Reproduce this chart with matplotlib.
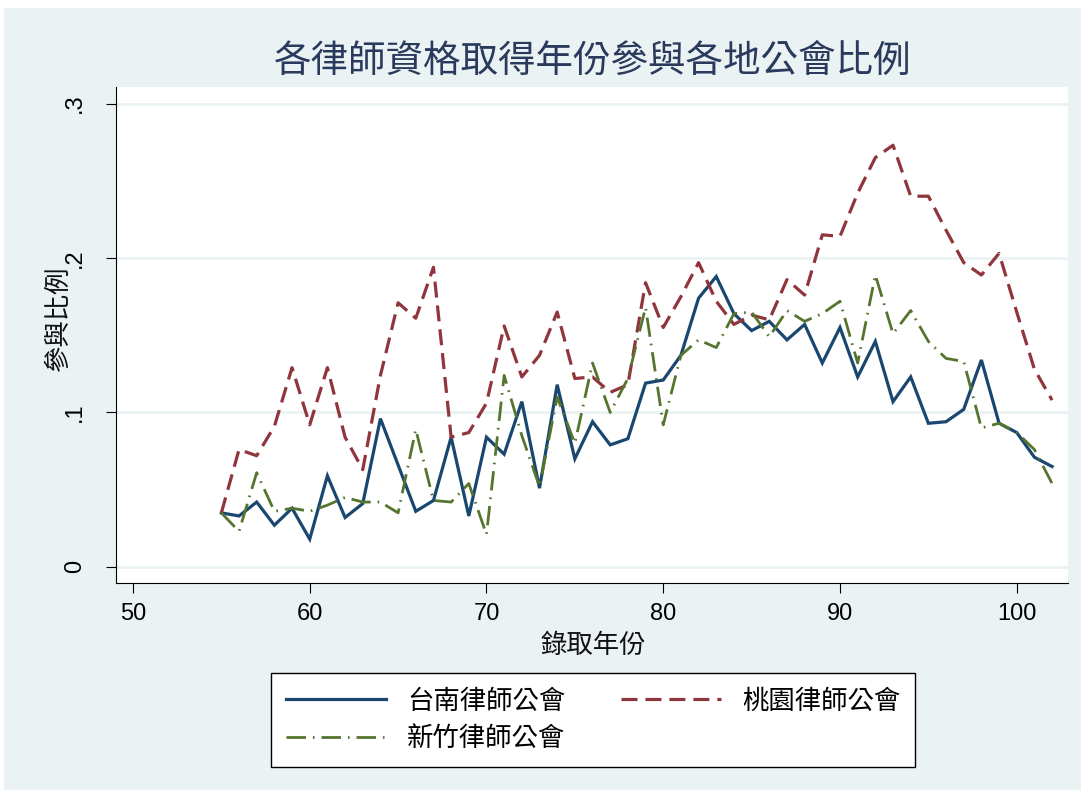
import numpy as np
import matplotlib
matplotlib.use("Agg")
import matplotlib.pyplot as plt
from matplotlib.patches import Rectangle

CJK = ["Noto Sans CJK TC", "DejaVu Sans"]
NUM = ["Liberation Sans", "DejaVu Sans"]

# data
years = list(range(55, 103))
tainan = [.035, .033, .042, .027, .038, .018, .059, .032, .041, .096,
          .066, .036, .043, .084, .033, .084, .073, .107, .051, .118,
          .070, .094, .079, .083, .119, .121, .137, .174, .188, .164,
          .153, .159, .147, .157, .132, .155, .123, .146, .107, .123,
          .093, .094, .102, .134, .093, .087, .071, .065]
taoyuan = [.035, .076, .072, .091, .129, .092, .129, .084, .063, .124,
           .171, .161, .194, .084, .087, .106, .156, .123, .137, .165,
           .122, .123, .113, .118, .184, .155, .175, .197, .172, .157,
           .163, .160, .186, .176, .215, .214, .242, .265, .273, .240,
           .240, .218, .197, .189, .203, .165, .128, .108]
hsinchu = [.035, .023, .061, .036, .038, .036, .040, .045, .042, .042,
           .035, .089, .043, .042, .054, .021, .124, .085, .052, .110,
           .080, .132, .100, .122, .168, .092, .137, .147, .142, .164,
           .165, .149, .166, .159, .164, .172, .132, .189, .151, .166,
           .146, .135, .133, .090, .093, .087, .076, .054]

labels = ["台南律師公會", "桃園律師公會", "新竹律師公會"]
colors = ["#1A476F", "#90353B", "#55752F"]
yticks = [0, .1, .2, .3]
yticklabels = ["0", ".1", ".2", ".3"]
xticks = [50, 60, 70, 80, 90, 100]

W, H = 1085, 794
fig = plt.figure(figsize=(W / 100, H / 100), dpi=100)
fig.patch.set_facecolor("white")
fig.add_artist(Rectangle((4 / W, 1 - 790 / H), 1077 / W, 782 / H,
                         transform=fig.transFigure, facecolor="#EAF2F3",
                         edgecolor="none", zorder=0))

ax = fig.add_axes([116 / W, 1 - 583 / H, (1068 - 116) / W, (583 - 87) / H])
ax.set_facecolor("white")

ax.plot(years, tainan, color=colors[0], lw=2.3, label=labels[0],
        solid_joinstyle="miter", zorder=3)
ax.plot(years, taoyuan, color=colors[1], lw=2.3, label=labels[1],
        dashes=(5, 2.5), zorder=3)
ax.plot(years, hsinchu, color=colors[2], lw=2.0, label=labels[2],
        dashes=(7, 2.5, 0.6, 2.5), zorder=3)

ax.set_xlim(49.04, 102.9)
ax.set_ylim(-0.0104, 0.3107)

# grid
for t in yticks:
    ax.axhline(t, color="#EAF2F3", lw=2, zorder=1)

ax.set_yticks(yticks)
ax.set_yticklabels(yticklabels, rotation=90, va="center", family=NUM, fontsize=17)
ax.set_xticks(xticks)
ax.set_xticklabels([str(x) for x in xticks], family=NUM, fontsize=17)
ax.tick_params(axis="both", length=7.5, width=0.8, color="black")
ax.tick_params(axis="y", pad=14)
ax.tick_params(axis="x", pad=7)

for s in ["top", "right"]:
    ax.spines[s].set_visible(False)
for s in ["left", "bottom"]:
    ax.spines[s].set_linewidth(0.8)

fig.text(593 / W, 1 - 62 / H, "各律師資格取得年份參與各地公會比例",
         ha="center", va="center", fontsize=27, color="#2A3A5C",
         family=CJK, fontweight="light")
fig.text(593 / W, 1 - 645 / H, "錄取年份", ha="center", va="center",
         fontsize=19, family=CJK, color="#111111")
fig.text(58 / W, 1 - 318 / H, "參與比例", ha="center", va="center",
         rotation=90, fontsize=19, family=CJK, color="#111111")

# legend box (order so that rows read tainan, taoyuan / hsinchu)
h = ax.get_legend_handles_labels()[0]
leg = fig.legend([h[0], h[2], h[1]], [labels[0], labels[2], labels[1]],
                 ncol=2, loc="center", bbox_to_anchor=(593 / W, 1 - 720 / H),
                 prop={"family": CJK, "size": 19}, frameon=True,
                 fancybox=False, edgecolor="black", facecolor="white",
                 framealpha=1, handlelength=3.8, columnspacing=2.1,
                 labelspacing=0.4, borderpad=0.55, handletextpad=0.8)
leg.get_frame().set_linewidth(1.0)

fig.savefig("out.png", dpi=100, facecolor=fig.get_facecolor())
